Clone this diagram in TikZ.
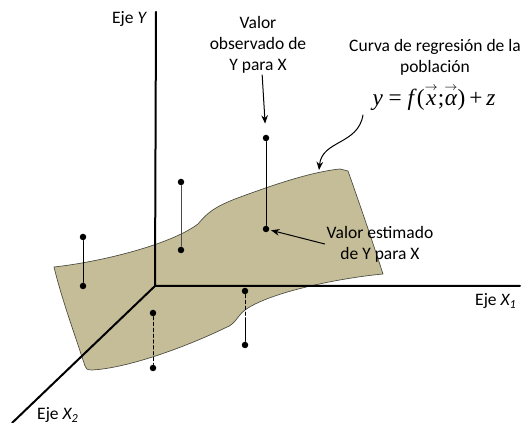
\documentclass[tikz,border=0pt]{standalone}
\usepackage{amsmath}
\usepackage{fontspec}
\setmainfont{Carlito}
\newfontfamily\eqfont{Liberation Serif}
\usetikzlibrary{arrows.meta,positioning}
\definecolor{ink}{HTML}{000000}
\definecolor{sand}{HTML}{C4BD97}
\definecolor{rim}{HTML}{4A4A40}
\newcommand{\vecit}[1]{$\overset{\scriptscriptstyle\rightarrow}{\text{\eqfont\itshape #1}}$}

\begin{document}
\begin{tikzpicture}[x=0.6pt,y=-0.6pt,line cap=round,
  axis/.style={line width=1.2pt,ink},
  dot/.style={circle,fill=ink,inner sep=0pt,minimum size=3.9pt},
  stem/.style={line width=0.6pt,ink},
  txt/.style={font=\fontsize{10.5}{12.6}\selectfont,align=center,inner sep=1pt},
  pointer/.style={-{Stealth[length=5pt,width=4pt]},line width=0.6pt,ink}]
  \useasboundingbox (0,0) rectangle (529,423);
  % regression surface
  \fill[sand,draw=rim,line width=0.4pt] (54,267)
    .. controls (100,262) and (170,245) .. (198,224)
    .. controls (208,212) and (215,207) .. (235,199)
    .. controls (270,186) and (310,172) .. (340,169)
    -- (348,171)
    .. controls (360,205) and (372,240) .. (383,274)
    .. controls (340,278) and (270,292) .. (245,310)
    .. controls (237,316) and (236,324) .. (225,328)
    .. controls (190,345) and (130,368) .. (92,370)
    .. controls (87,370) and (86,369) .. (85,366)
    .. controls (75,335) and (62,300) .. (54,267) -- cycle;
  % axes
  \coordinate (orig) at (155,286);
  \coordinate (ytop) at (156,12);
  \coordinate (x1end) at (520,286);
  \coordinate (x2end) at (12,423);
  \draw[axis] (ytop) -- (orig) -- (x1end);
  \draw[axis] (orig) -- (x2end);
  \node[txt,anchor=east] (ylab) at (149,19) {Eje \textit{Y}};
  \node[txt] (x1lab) at (496,301) {Eje \textit{X\textsubscript{1}}};
  \node[txt] (x2lab) at (58,415) {Eje \textit{X\textsubscript{2}}};
  % sample points
  \foreach \n/\x/\y in {p1top/83/237,p1bot/83/286,p2top/181/182,p2bot/181/250,
      obsdot/266/138,estdot/266/229,p4top/153/313,p4bot/153/368,
      p5top/245/291,p5bot/245/345}{
    \node[dot] (\n) at (\x,\y) {};
  }
  \coordinate (p5edge) at (245,318);
  \draw[stem] (p1top) -- (p1bot);
  \draw[stem,line width=0.4pt,black!70] (p2top) -- (p2bot);
  \draw[stem] (obsdot) -- (estdot);
  \draw[stem,dash pattern=on 2pt off 1.5pt] (p4top) -- (p4bot);
  \draw[stem,dash pattern=on 2pt off 1.5pt] (p5top) -- (p5edge);
  \draw[stem] (p5edge) -- (p5bot);
  % labels
  \node[txt] (obs) at (258,44.5) {Valor\\observado de\\Y para X};
  \node[txt] (curva) at (435,57.5) {Curva de regresión de la\\población};
  \node[txt,font=\fontsize{14}{16}\selectfont\eqfont] (eq) at (434,97)
    {\textit{y} = \textit{f}(\vecit{x};\vecit{α})\,+\,\textit{z}};
  \node[txt] (est) at (380,244) {Valor estimado\\de Y para X};
  \coordinate (curvestart) at (363,115);
  \coordinate (surftop) at (319,170);
  \draw[pointer,shorten >=6.5pt] ([xshift=2.5pt]obs.south) -- (obsdot);
  \draw[pointer,shorten >=1pt] (est.west) -- (estdot);
  \draw[pointer] (curvestart) .. controls (358,145) and (322,140) .. (surftop);
\end{tikzpicture}
\end{document}
